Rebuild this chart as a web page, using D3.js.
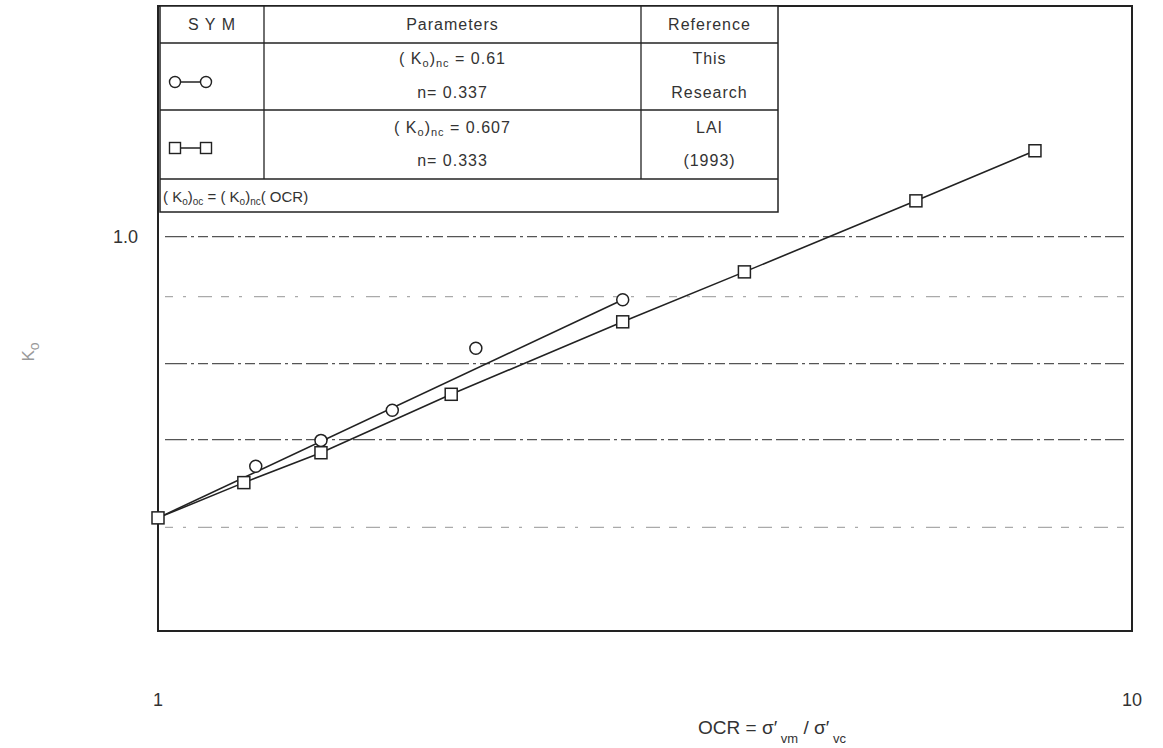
<!DOCTYPE html>
<html lang="en">
<head>
<meta charset="utf-8">
<title>Ko vs OCR</title>
<script src="https://d3js.org/d3.v7.min.js"></script>
<style>
  body { margin: 0; background: #fff; }
  svg { font-family: 'Liberation Sans', Arial, sans-serif; fill: #333; }
  .tbl text { font-size: 16px; letter-spacing: 1px; }
</style>
</head>
<body>
<div id="chart"></div>
<script>
// data
var squareOCR = [1, 1.225, 1.47, 2.0, 3.0, 4.0, 6.0, 7.95];
var squareK   = [0.61, 0.649, 0.684, 0.758, 0.861, 0.94, 1.065, 1.163];
var circleOCR = [1.26, 1.47, 1.74, 2.12, 3.0];
var circleK   = [0.668, 0.699, 0.737, 0.822, 0.895];
var circleFitOCR = [1, 3.0];
var circleFitK   = [0.61, 0.895];
var gridK = [0.6, 0.7, 0.8, 0.9, 1.0];
var gridStyle = ["sparse", "dash", "dash", "sparse", "dash"];

var W = 1163, H = 748;
var svg = d3.select("#chart").append("svg")
    .attr("width", W).attr("height", H);

var x = d3.scaleLog().domain([1, 10]).range([158, 1132]);
var y = d3.scaleLog().domain([0.5, 1.5]).range([631, 6]);

// horizontal grid (dash-dot, scanned look)
svg.selectAll(".grid")
  .data(gridK)
  .enter().append("line")
    .attr("x1", x(1) + 7).attr("x2", x(10) - 8)
    .attr("y1", function(d) { return y(d); })
    .attr("y2", function(d) { return y(d); })
    .attr("stroke", function(d, i) { return gridStyle[i] == "dash" ? "#555" : "#aaa"; })
    .attr("stroke-width", 1.2)
    .attr("stroke-dasharray", function(d, i) {
      return gridStyle[i] == "dash" ? "22,4,3,4,10,4" : "8,10,3,12,14,9";
    });

// plot frame
svg.append("rect")
    .attr("x", x(1)).attr("y", y(1.5))
    .attr("width", x(10) - x(1)).attr("height", y(0.5) - y(1.5))
    .attr("fill", "none").attr("stroke", "#222").attr("stroke-width", 2);

// tick labels
svg.append("text").attr("x", 138).attr("y", y(1.0) + 6)
    .attr("text-anchor", "end").style("font-size", "18px").text("1.0");
svg.selectAll(".xt")
  .data([1, 10])
  .enter().append("text")
    .attr("x", function(d) { return x(d); })
    .attr("y", 706)
    .attr("text-anchor", "middle")
    .style("font-size", "18px")
    .text(function(d) { return d; });

// axis titles
var xl = svg.append("text").attr("x", 772).attr("y", 734)
    .attr("text-anchor", "middle").style("font-size", "19px");
xl.append("tspan").text("OCR =  σ′");
xl.append("tspan").attr("dy", 9).style("font-size", "13px").text("  vm");
xl.append("tspan").attr("dy", -9).text(" / σ′");
xl.append("tspan").attr("dy", 9).style("font-size", "13px").text("  vc");

var yl = svg.append("text")
    .attr("transform", "translate(34,352) rotate(-90)")
    .attr("text-anchor", "middle").style("font-size", "17px").style("fill", "#999");
yl.append("tspan").text("K");
yl.append("tspan").attr("dy", 5).style("font-size", "14px").text("o");

var line = d3.line()
    .x(function(d) { return x(d[0]); })
    .y(function(d) { return y(d[1]); });

var sq = d3.zip(squareOCR, squareK);
var ci = d3.zip(circleOCR, circleK);
var ciFit = d3.zip(circleFitOCR, circleFitK);

svg.append("path").datum(sq).attr("d", line)
    .attr("fill", "none").attr("stroke", "#222").attr("stroke-width", 1.6);
svg.append("path").datum(ciFit).attr("d", line)
    .attr("fill", "none").attr("stroke", "#222").attr("stroke-width", 1.6);

svg.selectAll(".ci")
  .data(ci)
  .enter().append("circle")
    .attr("cx", function(d) { return x(d[0]); })
    .attr("cy", function(d) { return y(d[1]); })
    .attr("r", 6)
    .attr("fill", "#fff").attr("stroke", "#222").attr("stroke-width", 1.5);

svg.selectAll(".sq")
  .data(sq)
  .enter().append("rect")
    .attr("x", function(d) { return x(d[0]) - 6; })
    .attr("y", function(d) { return y(d[1]) - 6; })
    .attr("width", 12).attr("height", 12)
    .attr("fill", "#fff").attr("stroke", "#222").attr("stroke-width", 1.5);

// legend table in the top-left corner
var cols = [160, 264, 641, 778];
var rows = [6, 43, 110, 179, 212];
var tbl = svg.append("g").attr("class", "tbl");

tbl.append("rect")
    .attr("x", cols[0]).attr("y", rows[0])
    .attr("width", cols[3] - cols[0]).attr("height", rows[4] - rows[0])
    .attr("fill", "#fff").attr("stroke", "#222").attr("stroke-width", 1.5);
rows.slice(1, 4).forEach(function(r) {
  tbl.append("line").attr("x1", cols[0]).attr("x2", cols[3])
      .attr("y1", r).attr("y2", r).attr("stroke", "#222").attr("stroke-width", 1.3);
});
cols.slice(1, 3).forEach(function(c) {
  tbl.append("line").attr("x1", c).attr("x2", c)
      .attr("y1", rows[0]).attr("y2", rows[3]).attr("stroke", "#222").attr("stroke-width", 1.3);
});

function cell(tx, ty, s, anchor) {
  return tbl.append("text").attr("x", tx).attr("y", ty)
      .attr("text-anchor", anchor || "middle").text(s);
}
cell((cols[0] + cols[1]) / 2, 30, "S Y M");
cell((cols[1] + cols[2]) / 2, 30, "Parameters");
cell((cols[2] + cols[3]) / 2, 30, "Reference");

function kParam(ty, v) {
  var t = tbl.append("text").attr("x", (cols[1] + cols[2]) / 2).attr("y", ty)
      .attr("text-anchor", "middle");
  t.append("tspan").text("( K");
  t.append("tspan").attr("dy", 3).style("font-size", "11px").text("o");
  t.append("tspan").attr("dy", -3).text(")");
  t.append("tspan").attr("dy", 3).style("font-size", "11px").text("nc");
  t.append("tspan").attr("dy", -3).text(" = " + v);
}
kParam(64, "0.61");
cell((cols[1] + cols[2]) / 2, 98, "n= 0.337");
kParam(133, "0.607");
cell((cols[1] + cols[2]) / 2, 166, "n= 0.333");
cell((cols[2] + cols[3]) / 2, 64, "This");
cell((cols[2] + cols[3]) / 2, 98, "Research");
cell((cols[2] + cols[3]) / 2, 133, "LAI");
cell((cols[2] + cols[3]) / 2, 166, "(1993)");

var f = tbl.append("text").attr("x", cols[0] + 3).attr("y", 202)
    .style("font-size", "15px").style("letter-spacing", "0px");
f.append("tspan").text("( K");
f.append("tspan").attr("dy", 3).style("font-size", "10px").text("o");
f.append("tspan").attr("dy", -3).text(")");
f.append("tspan").attr("dy", 3).style("font-size", "10px").text("oc");
f.append("tspan").attr("dy", -3).text(" = ( K");
f.append("tspan").attr("dy", 3).style("font-size", "10px").text("o");
f.append("tspan").attr("dy", -3).text(")");
f.append("tspan").attr("dy", 3).style("font-size", "10px").text("nc");
f.append("tspan").attr("dy", -3).text("( OCR)");

// legend symbols
var symX = [175, 206];
[[82, "circle"], [148, "square"]].forEach(function(s) {
  tbl.append("line").attr("x1", symX[0]).attr("x2", symX[1])
      .attr("y1", s[0]).attr("y2", s[0]).attr("stroke", "#222").attr("stroke-width", 1.5);
  symX.forEach(function(sx) {
    if (s[1] == "circle") {
      tbl.append("circle").attr("cx", sx).attr("cy", s[0]).attr("r", 5.5)
          .attr("fill", "#fff").attr("stroke", "#222").attr("stroke-width", 1.4);
    } else {
      tbl.append("rect").attr("x", sx - 5.5).attr("y", s[0] - 5.5)
          .attr("width", 11).attr("height", 11)
          .attr("fill", "#fff").attr("stroke", "#222").attr("stroke-width", 1.4);
    }
  });
});
</script>
</body>
</html>
